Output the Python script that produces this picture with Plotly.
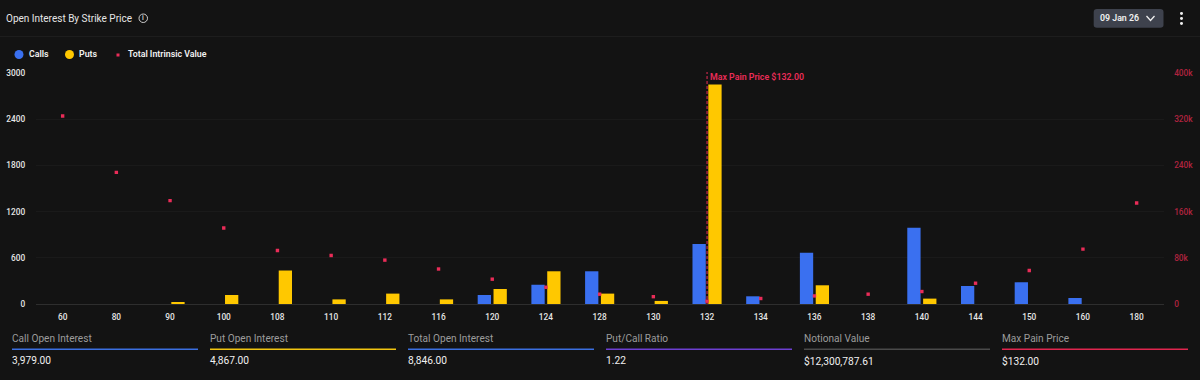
import plotly.graph_objects as go

strikes = ["60","80","90","100","108","110","112","116","120","124","128","130","132","134","136","138","140","144","150","160","180"]
calls = [0,0,0,0,0,0,0,0,117,250,425,0,780,100,665,0,990,234,282,78,0]
puts = [0,0,25,117,435,60,135,60,195,425,135,40,2850,0,243,0,70,0,0,0,0]
intrinsic = [325500,228000,179000,131600,92600,84000,76000,60600,43000,29000,17000,12700,5000,9500,14000,17000,21600,36000,58000,95000,175000]
left_ticks = [0,600,1200,1800,2400,3000]
right_ticks = [0,80000,160000,240000,320000,400000]
right_labels = ["0","80k","160k","240k","320k","400k"]
footer_labels = ["Call Open Interest","Put Open Interest","Total Open Interest","Put/Call Ratio","Notional Value","Max Pain Price"]
footer_values = ["3,979.00","4,867.00","8,846.00","1.22","$12,300,787.61","$132.00"]
footer_colors = ["#3b6fe0","#f2c511","#3b6fe0","#6d3fd1","#4a4a4a","#e0264f"]
max_pain_strike = "132"

W, H = 1200, 380
BG = "#131313"
BLUE = "#3a70f0"
YEL = "#ffc800"
RED = "#ea2c58"
FONT = "Roboto"

def px(x): return x / W
def py(y): return 1 - y / H

fig = go.Figure()
fig.add_bar(x=strikes, y=calls, name="Calls", marker=dict(color=BLUE, line_width=0), yaxis="y")
fig.add_bar(x=strikes, y=puts, name="Puts", marker=dict(color=YEL, line_width=0), yaxis="y")
fig.add_scatter(x=strikes, y=intrinsic, name="Total Intrinsic Value", mode="markers",
                marker=dict(color=RED, size=3.4, symbol="square", line_width=0), yaxis="y2")

shapes = []
ann = []

def text(x, y, s, size=10, color="#ffffff", weight=400, anchor="left"):
    dx = -2 if anchor == "left" else 0
    ann.append(dict(x=px(x + dx), y=py(y), xref="paper", yref="paper", text=s, showarrow=False,
                    xanchor=anchor, yanchor="middle", align=anchor,
                    font=dict(family=FONT, size=size, color=color, weight=weight)))

def rect(x0, y0, x1, y1, color, kind="rect", **kw):
    shapes.append(dict(type=kind, xref="paper", yref="paper", x0=px(x0), x1=px(x1), y0=py(y0), y1=py(y1),
                       fillcolor=color, line_width=0, layer="above", **kw))

# header
text(6, 18, "Open Interest By Strike Price", 10, "#e6e6e6", 400)
shapes.append(dict(type="circle", xref="paper", yref="paper", x0=px(139), x1=px(147.5), y0=py(14), y1=py(22.5),
                   line=dict(color="#cfcfcf", width=1), fillcolor="rgba(0,0,0,0)"))
text(143.2, 18.2, "i", 7, "#dddddd", 500, "center")
rect(0, 36, W, 37, "#1d1d1d")
shapes.append(dict(type="path", xref="paper", yref="paper",
                   path=(f"M {px(1097)} {py(9)} L {px(1160)} {py(9)} Q {px(1163.5)} {py(9)} {px(1163.5)} {py(12)} "
                         f"L {px(1163.5)} {py(25)} Q {px(1163.5)} {py(27.7)} {px(1160)} {py(27.7)} "
                         f"L {px(1097)} {py(27.7)} Q {px(1093.7)} {py(27.7)} {px(1093.7)} {py(25)} "
                         f"L {px(1093.7)} {py(12)} Q {px(1093.7)} {py(9)} {px(1097)} {py(9)} Z"),
                   fillcolor="#3e424d", line_width=0))
text(1100, 18, "09 Jan 26", 8.8, "#f0f0f0", 600)
shapes.append(dict(type="path", xref="paper", yref="paper",
                   path=f"M {px(1146.5)} {py(16)} L {px(1150.5)} {py(20.5)} L {px(1154.5)} {py(16)}",
                   line=dict(color="#eeeeee", width=1.3), fillcolor="rgba(0,0,0,0)"))
for yy in (13.5, 18.5, 23.5):
    rect(1180, yy - 1.4, 1183, yy + 1.4, "#f0f0f0", "circle")

# legend
rect(14.5, 50, 23.5, 59, BLUE, "circle")
text(28.5, 54.5, "Calls", 8.8, "#f2f2f2", 600)
rect(65, 50, 74, 59, YEL, "circle")
text(79, 54.5, "Puts", 8.8, "#f2f2f2", 600)
rect(116.5, 53.5, 119.5, 56.5, RED)
text(128, 54.5, "Total Intrinsic Value", 8.8, "#f2f2f2", 600)

# max pain marker (category index position on the x axis)
mp = strikes.index(max_pain_strike)
shapes.append(dict(type="line", xref="x", yref="paper", x0=mp, x1=mp, y0=py(304), y1=py(72),
                   line=dict(color=RED, width=1, dash="3px,2px"), layer="above"))
ann.append(dict(x=mp, y=py(76.5), xref="x", yref="paper", xshift=1, text="Max Pain Price $132.00", showarrow=False,
                xanchor="left", yanchor="middle", font=dict(family=FONT, size=8.8, color=RED, weight=600)))

# footer
for i, (lab, val, col) in enumerate(zip(footer_labels, footer_values, footer_colors)):
    x0 = 12 + i * 198
    text(x0, 338, lab, 10.1, "#9c9c9c", 400)
    rect(x0, 348.5, x0 + 186, 350, col)
    text(x0, 360.5, val, 10.2, "#f0f0f0", 400)

fig.update_layout(
    width=W, height=H, autosize=False,
    margin=dict(l=0, r=0, t=0, b=0, autoexpand=False),
    paper_bgcolor=BG, plot_bgcolor=BG,
    showlegend=False, barmode="group", bargap=0.41, bargroupgap=0.16,
    font=dict(family=FONT, size=8, color="#e6e6e6"),
    xaxis=dict(domain=[35.8 / W, 1163.5 / W], type="category", categoryorder="array", categoryarray=strikes,
               range=[-0.5, len(strikes) - 0.5], showgrid=False, showline=True, linecolor="#2e2e2e", linewidth=1,
               ticks="outside", ticklen=5, tickcolor="rgba(0,0,0,0)", tickangle=0,
               tickfont=dict(family=FONT, size=8.3, color="#e6e6e6", weight=500), zeroline=False),
    yaxis=dict(domain=[1 - 304 / H, 1 - 73 / H], range=[0, 3000], tickvals=left_ticks,
               gridcolor="#1a1a1a", gridwidth=1, zeroline=False, showline=False,
               ticks="outside", ticklen=8, tickcolor="rgba(0,0,0,0)",
               tickfont=dict(family=FONT, size=8.3, color="#e6e6e6", weight=500)),
    yaxis2=dict(domain=[1 - 304 / H, 1 - 73 / H], range=[0, 400000], overlaying="y", side="right",
                tickvals=right_ticks, ticktext=right_labels, showgrid=False, zeroline=False, showline=False,
                ticks="outside", ticklen=8, tickcolor="rgba(0,0,0,0)",
                tickfont=dict(family=FONT, size=8.3, color="#b0233f", weight=500)),
    shapes=shapes, annotations=ann,
)

fig.write_html("out.html", config=dict(displayModeBar=False),
               post_script="document.body.style.margin='0';document.body.style.background='#131313';document.documentElement.style.overflow='hidden';")
